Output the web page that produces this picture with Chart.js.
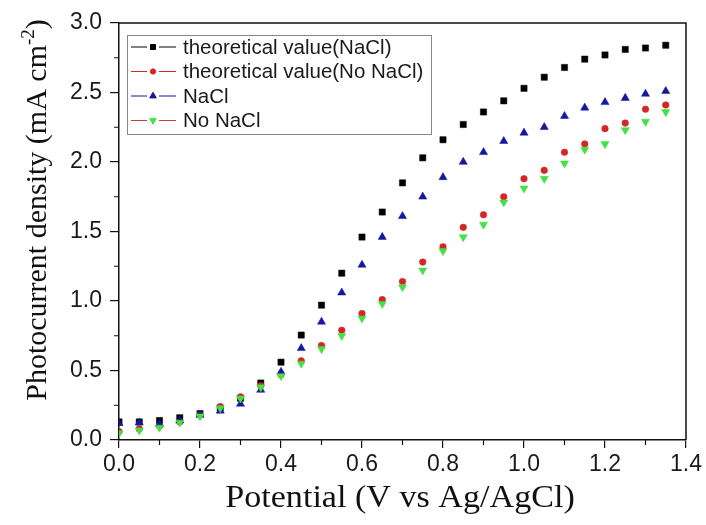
<!DOCTYPE html>
<html>
<head>
<meta charset="utf-8">
<script src="https://cdn.jsdelivr.net/npm/chart.js@4.4.1/dist/chart.umd.min.js"></script>
<style>
  html, body { margin: 0; padding: 0; background: #fff; }
</style>
</head>
<body>
<canvas id="chart" width="706" height="525"></canvas>
<script>
// Potential (V vs Ag/AgCl)
const potential = [0, 0.05, 0.1, 0.15, 0.2, 0.25, 0.3, 0.35, 0.4, 0.45, 0.5, 0.55, 0.6, 0.65,
  0.7, 0.75, 0.8, 0.85, 0.9, 0.95, 1.0, 1.05, 1.1, 1.15, 1.2, 1.25, 1.3, 1.35];

// Photocurrent density (mA cm-2)
const theoNaCl = [0.13, 0.13, 0.14, 0.16, 0.19, 0.23, 0.30, 0.41, 0.56, 0.755, 0.97, 1.20, 1.46, 1.64,
  1.85, 2.03, 2.16, 2.27, 2.36, 2.44, 2.53, 2.61, 2.68, 2.74, 2.77, 2.81, 2.82, 2.84];
const theoNoNaCl = [0.06, 0.08, 0.10, 0.13, 0.18, 0.24, 0.31, 0.39, 0.47, 0.57, 0.68, 0.79, 0.91, 1.01,
  1.14, 1.28, 1.39, 1.53, 1.62, 1.75, 1.88, 1.94, 2.07, 2.13, 2.24, 2.28, 2.38, 2.41];
const naCl = [0.12, 0.125, 0.115, 0.14, 0.18, 0.21, 0.26, 0.36, 0.49, 0.66, 0.85, 1.06, 1.26, 1.46,
  1.61, 1.75, 1.89, 2.00, 2.07, 2.15, 2.21, 2.25, 2.33, 2.39, 2.43, 2.46, 2.49, 2.51];
const noNaCl = [0.05, 0.07, 0.09, 0.125, 0.17, 0.23, 0.30, 0.38, 0.46, 0.55, 0.655, 0.75, 0.875, 0.98,
  1.10, 1.22, 1.36, 1.46, 1.55, 1.71, 1.81, 1.88, 1.99, 2.09, 2.13, 2.23, 2.29, 2.36];

const seriesNames = ['theoretical value(NaCl)', 'theoretical value(No NaCl)', 'NaCl', 'No NaCl'];
const xTicks = [0, 0.2, 0.4, 0.6, 0.8, 1.0, 1.2, 1.4];
const yTicks = [0, 0.5, 1.0, 1.5, 2.0, 2.5, 3.0];

const pts = (ys) => potential.map((x, i) => ({ x: x, y: ys[i] }));

// marker look per series
const markers = [
  { pointStyle: 'rect', radius: 4.4, rotation: 0, color: '#000000', line: '#000000' },
  { pointStyle: 'circle', radius: 3.3, rotation: 0, color: '#d42626', line: '#d42626' },
  { pointStyle: 'triangle', radius: 4.7, rotation: 0, color: '#16169e', line: '#16169e' },
  { pointStyle: 'triangle', radius: 4.7, rotation: 180, color: '#44e044', line: '#c84040' },
];

const allSeries = [theoNaCl, theoNoNaCl, naCl, noNaCl];

const datasets = allSeries.map((ys, i) => ({
  label: seriesNames[i],
  data: pts(ys),
  showLine: false,
  pointStyle: markers[i].pointStyle,
  pointRadius: markers[i].radius,
  pointRotation: markers[i].rotation,
  pointBackgroundColor: markers[i].color,
  pointBorderColor: markers[i].color,
  pointBorderWidth: 0.5,
  order: 4 - i,
}));

const serif = '"Liberation Serif", "Times New Roman", serif';

// frame, minor ticks, axis titles and the boxed legend
const extras = {
  id: 'extras',
  afterDraw(chart) {
    const ctx = chart.ctx;
    const a = chart.chartArea;
    const xs = chart.scales.x;
    const ys = chart.scales.y;
    ctx.save();

    // top and right frame
    ctx.strokeStyle = '#111';
    ctx.lineWidth = 1.5;
    ctx.beginPath();
    ctx.moveTo(a.left, a.top);
    ctx.lineTo(a.right, a.top);
    ctx.lineTo(a.right, a.bottom);
    ctx.stroke();

    // minor ticks
    ctx.lineWidth = 1.2;
    ctx.beginPath();
    for (let v = 0.1; v < 1.4; v += 0.2) {
      const px = xs.getPixelForValue(v);
      ctx.moveTo(px, a.bottom);
      ctx.lineTo(px, a.bottom + 5);
    }
    for (let v = 0.25; v < 3; v += 0.5) {
      const py = ys.getPixelForValue(v);
      ctx.moveTo(a.left, py);
      ctx.lineTo(a.left - 5, py);
    }
    ctx.stroke();

    // x title (slightly wide, like the source picture)
    ctx.fillStyle = '#111';
    ctx.save();
    ctx.translate(400, 499);
    ctx.scale(1.1, 1);
    ctx.font = '31px ' + serif;
    ctx.textAlign = 'center';
    ctx.textBaseline = 'middle';
    ctx.fillText('Potential (V vs Ag/AgCl)', 0, 0);
    ctx.restore();

    // y title with superscript
    ctx.save();
    ctx.translate(36, 210);
    ctx.rotate(-Math.PI / 2);
    const main = 'Photocurrent density (mA cm';
    const sup = '-2';
    const close = ')';
    ctx.font = '30px ' + serif;
    const w1 = ctx.measureText(main).width;
    const w3 = ctx.measureText(close).width;
    ctx.font = '19px ' + serif;
    const w2 = ctx.measureText(sup).width;
    const x0 = -(w1 + w2 + w3) / 2;
    ctx.textAlign = 'left';
    ctx.textBaseline = 'alphabetic';
    ctx.font = '30px ' + serif;
    ctx.fillText(main, x0, 10);
    ctx.font = '19px ' + serif;
    ctx.fillText(sup, x0 + w1, -2);
    ctx.font = '30px ' + serif;
    ctx.fillText(close, x0 + w1 + w2, 10);
    ctx.restore();

    // legend
    ctx.strokeStyle = '#888';
    ctx.lineWidth = 1;
    ctx.strokeRect(127.5, 35.5, 304, 99);
    ctx.font = '20.5px "Liberation Sans", Arial, sans-serif';
    ctx.textAlign = 'left';
    ctx.textBaseline = 'middle';
    const rowY = [47, 71.5, 96, 120.5];
    markers.forEach((m, i) => {
      const y = rowY[i];
      ctx.strokeStyle = m.line;
      ctx.lineWidth = 1;
      ctx.beginPath();
      ctx.moveTo(131, y);
      ctx.lineTo(147, y);
      ctx.moveTo(159, y);
      ctx.lineTo(176, y);
      ctx.stroke();
      ctx.fillStyle = m.color;
      ctx.strokeStyle = m.color;
      Chart.helpers.drawPoint(ctx, {
        pointStyle: m.pointStyle,
        radius: m.radius * 0.8,
        rotation: m.rotation,
        borderWidth: 0.5,
      }, 153, y);
      ctx.fillStyle = '#1a1a1a';
      ctx.fillText(seriesNames[i], 183, y + 1);
    });

    ctx.restore();
  },
};

new Chart(document.getElementById('chart'), {
  type: 'scatter',
  data: { datasets: datasets },
  options: {
    responsive: false,
    animation: false,
    layout: { padding: { left: 0, right: 20, top: 23, bottom: 0 } },
    plugins: {
      legend: { display: false },
      tooltip: { enabled: false },
    },
    scales: {
      x: {
        type: 'linear',
        min: 0,
        max: 1.4,
        afterFit(scale) { scale.height = 85; },
        afterBuildTicks(scale) { scale.ticks = xTicks.map(v => ({ value: v })); },
        border: { display: true, color: '#111', width: 1.5 },
        grid: { drawOnChartArea: false, drawTicks: true, tickLength: 8, color: '#111', lineWidth: 1.2 },
        ticks: {
          color: '#1a1a1a',
          padding: 3,
          maxRotation: 0,
          font: { family: '"Liberation Sans", Arial, sans-serif', size: 23 },
          callback: (v) => Number(v).toFixed(1),
        },
      },
      y: {
        type: 'linear',
        min: 0,
        max: 3,
        afterFit(scale) { scale.width = 119; },
        afterBuildTicks(scale) { scale.ticks = yTicks.map(v => ({ value: v })); },
        border: { display: true, color: '#111', width: 1.5 },
        grid: { drawOnChartArea: false, drawTicks: true, tickLength: 9, color: '#111', lineWidth: 1.2 },
        ticks: {
          color: '#1a1a1a',
          padding: 8,
          font: { family: '"Liberation Sans", Arial, sans-serif', size: 23 },
          callback: (v) => Number(v).toFixed(1),
        },
      },
    },
  },
  plugins: [extras],
});
</script>
</body>
</html>
